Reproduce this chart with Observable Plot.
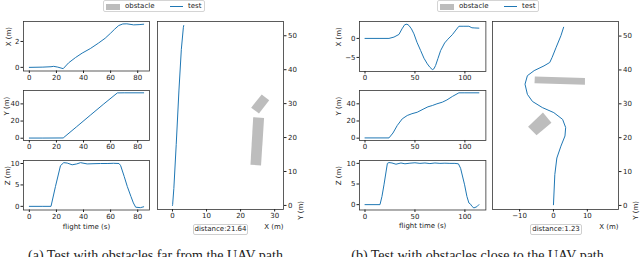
<!DOCTYPE html>
<html><head><meta charset="utf-8">
<script src="https://cdn.jsdelivr.net/npm/d3@7"></script>
<script src="https://cdn.jsdelivr.net/npm/@observablehq/plot@0.6"></script>
<style>
body{margin:0;background:#fff}
#root{position:relative;width:640px;height:257px;overflow:hidden;font-family:"DejaVu Sans",sans-serif;color:#222;background:#fff}
#root svg{position:absolute}
.legend{position:absolute;height:12px;border:1px solid #d4d4d4;border-radius:2px;box-sizing:border-box;font-size:7px;background:#fff}
.legend span{position:absolute}
.dist{position:absolute;height:11px;border:1px solid #cfcfcf;border-radius:2px;box-sizing:border-box;font-size:7px;line-height:9px;text-align:center;background:#fff}
.cap{position:absolute;width:320px;text-align:center;font-family:"Liberation Serif",serif;font-size:14px;line-height:14px;color:#222;white-space:nowrap}
</style></head><body><div id="root"></div>
<script>
// ---------- data: panel (a) ----------
const aXt = [0, 10, 16, 18, 21, 25, 29, 34, 39, 45, 51, 56, 60, 63, 66, 69, 72, 77, 81, 84.4];
const aXv = [0, 0.02, 0.05, 0.08, 0.02, -0.1, 0.35, 0.75, 1.1, 1.45, 1.87, 2.25, 2.64, 2.95, 3.23, 3.35, 3.36, 3.28, 3.3, 3.33];
const aYt = [0, 10, 25, 35, 45, 55, 65, 70, 84.4];
const aYv = [0.2, 0.2, 0.3, 13.5, 26.8, 40, 52.8, 52.9, 52.9];
const aZt = [0, 10, 16, 19.3, 23, 25.4, 28, 31.6, 35, 37.8, 42.7, 47, 52.6, 58, 62, 66.2, 67.4, 70, 72.3, 75, 76.8, 78.5, 82, 84.4];
const aZv = [0, 0, 0, 4.65, 9.5, 10.2, 10.1, 9.7, 9.9, 10.2, 9.9, 9.95, 10.0, 10.0, 10.05, 10.0, 9.5, 7.0, 4.65, 2.3, 0.8, -0.2, -0.3, -0.1];
const aPathX = [0, 0.05, 0.4, 1.1, 1.9, 2.6, 3.2, 3.3];
const aPathY = [0, 0.3, 5, 18, 34, 46, 52.5, 53];
const aObs1X = [23.7, 26.9, 26.0, 22.9];
const aObs1Y = [26.0, 25.8, 11.8, 12.0];
const aObs2X = [26.2, 28.4, 25.4, 23.1];
const aObs2Y = [32.7, 31.0, 27.1, 28.8];
const aDistance = "distance:21.64";
const aCaption = "(a) Test with obstacles far from the UAV path";

// ---------- data: panel (b) ----------
const bXt = [0, 15, 24, 29, 34, 37, 39.7, 42, 44, 46.5, 49, 52, 55.7, 59, 62.4, 65, 67.4, 69, 70.7, 73, 75.7, 79.7, 83, 87.4, 91, 94, 99, 104, 107, 110, 114];
const bXv = [0, 0, 0, 0.35, 1.05, 2.5, 3.6, 3.75, 3.4, 2.5, 1.2, -1.0, -3.2, -5.2, -6.7, -7.6, -8.2, -8.0, -7.1, -5.3, -3.2, -1.2, -0.2, 0.97, 2.2, 3.2, 3.2, 3.2, 2.8, 2.75, 2.7];
const bYt = [0, 24, 28, 32.3, 37.3, 42.3, 47, 52.3, 59, 63, 67.4, 72, 77.4, 82, 87.4, 94, 100, 114];
const bYv = [0.3, 0.3, 6, 14.8, 22.5, 26.4, 28.5, 30.2, 34.2, 36.5, 38, 40, 41.9, 44.5, 48.5, 52.8, 52.8, 52.8];
const bZt = [0, 15, 17, 19, 22.4, 24, 27, 31, 36, 40, 45, 50, 55, 60, 65, 70, 75, 80, 85, 90, 93.5, 95.7, 99.7, 102, 104, 105.7, 107, 109, 112, 114];
const bZv = [0, 0, 2, 4.8, 10.0, 10.2, 10.1, 9.8, 10.1, 9.9, 10.05, 10.15, 10.0, 10.1, 9.95, 10.1, 10.0, 10.05, 10.0, 10.0, 9.9, 8.8, 4.8, 2.0, 0.4, 0.1, -0.4, -0.8, -0.5, 0];
const bPathX = [0, 0.4, 1.0, 2.2, 3.4, 3.6, 2.7, 0.1, -3.3, -6.2, -7.7, -8.4, -7.7, -5.7, -2.8, -1.1, -0.4, 0.8, 2.2, 3.0];
const bPathY = [0.2, 9.1, 14, 17.5, 20.5, 23, 25.4, 27.4, 28.9, 30.7, 32.8, 35.8, 38.3, 39.8, 41.2, 42.2, 43.7, 46.7, 50.1, 52.6];
const bObs1X = [-5.5, 9.3, 9.3, -5.6];
const bObs1Y = [38.1, 37.6, 35.6, 36.1];
const bObs2X = [-3.1, -0.6, -5.0, -7.5];
const bObs2Y = [27.4, 24.4, 20.7, 23.2];
const bDistance = "distance:1.23";
const bCaption = "(b) Test with obstacles close to the UAV path";

// ---------- labels ----------
const legendLabels = ["obstacle", "test"];
const yLabels = ["X (m)", "Y (m)", "Z (m)"];
const timeLabel = "flight time (s)";
const pathXLabel = "X (m)";
const pathYLabel = "Y (m)";
const aTimeTicks = [0, 20, 40, 60, 80];
const bTimeTicks = [0, 50, 100];
const aXTicks = [0, 2], bXTicks = [-5, 0];
const yTicks = [0, 20, 40];
const zTicks = [0, 5, 10];
const aPathXTicks = [0, 10, 20, 30], bPathXTicks = [-10, 0, 10];
const pathYTicks = [0, 10, 20, 30, 40, 50];

const BLUE = "#1f77b4", GRAY = "#bdbdbd", INK = "#333";
const fmt = d3.format("~g");
const root = document.getElementById("root");
const style = {fontFamily: "DejaVu Sans", fontSize: "7px", color: "#222", background: "none", overflow: "visible"};

function series(t, v) { return t.map((d, i) => ({t: d, v: v[i]})); }
function polys(list) {
  const out = [];
  list.forEach(([xs, ys], k) => xs.forEach((x, i) => out.push({k, x, y: ys[i]})));
  return out;
}

function timePlot(o) {
  const ML = 30, MR = 4, MT = 4, MB = o.xlabel ? 26 : 14;
  const marks = [
    Plot.frame({stroke: INK, strokeWidth: 0.8}),
    Plot.axisX({ticks: o.xTicks, tickFormat: fmt, tickSize: 2.5, tickPadding: 1.5, label: null}),
    Plot.axisY({ticks: o.yTicks, tickFormat: fmt, tickSize: 2.5, tickPadding: 1.5, label: null}),
    Plot.line(series(o.t, o.v), {x: "t", y: "v", stroke: BLUE, strokeWidth: 1}),
    Plot.text([o.ylabel], {text: d => d, frameAnchor: "left", dx: o.labelDx, rotate: -90})
  ];
  if (o.xlabel) marks.push(Plot.text([o.xlabel], {text: d => d, frameAnchor: "bottom", dy: 18.5}));
  const svg = Plot.plot({
    width: ML + o.w + MR, height: MT + o.h + MB,
    marginLeft: ML, marginRight: MR, marginTop: MT, marginBottom: MB,
    x: {domain: o.xDomain}, y: {domain: o.yDomain},
    style, marks
  });
  svg.style.left = (o.left - ML) + "px";
  svg.style.top = (o.top - MT) + "px";
  root.appendChild(svg);
}

function pathPlot(o) {
  const ML = 4, MR = 28, MT = 4, MB = 28;
  const svg = Plot.plot({
    width: ML + o.w + MR, height: MT + o.h + MB,
    marginLeft: ML, marginRight: MR, marginTop: MT, marginBottom: MB,
    x: {domain: o.xDomain}, y: {domain: o.yDomain},
    style,
    marks: [
      Plot.frame({stroke: INK, strokeWidth: 0.8}),
      Plot.axisX({ticks: o.xTicks, tickFormat: fmt, tickSize: 2.5, tickPadding: 1.5, label: null}),
      Plot.axisY({anchor: "right", ticks: pathYTicks, tickFormat: fmt, tickSize: 2.5, tickPadding: 2, label: null}),
      Plot.line(polys(o.obs), {x: "x", y: "y", z: "k", fill: GRAY, stroke: "none"}),
      Plot.line(o.px.map((x, i) => ({x, y: o.py[i]})), {x: "x", y: "y", stroke: BLUE, strokeWidth: 1}),
      Plot.text([pathXLabel], {text: d => d, frameAnchor: "bottom-right", dy: 19.5, textAnchor: "end"}),
      Plot.text([pathYLabel], {text: d => d, frameAnchor: "bottom-right", dx: 19, dy: -8.5, rotate: -90})
    ]
  });
  svg.style.left = (o.left - ML) + "px";
  svg.style.top = (o.top - MT) + "px";
  root.appendChild(svg);
}

function legend(left) {
  const d = document.createElement("div");
  d.className = "legend";
  d.style.left = left + "px"; d.style.top = "0px"; d.style.width = "102px";
  d.innerHTML =
    `<span style="left:2px;top:2.5px;width:14px;height:6px;background:${GRAY}"></span>` +
    `<span style="left:21px;top:0.5px;line-height:9px">${legendLabels[0]}</span>` +
    `<span style="left:66px;top:5px;width:13px;height:1.2px;background:${BLUE}"></span>` +
    `<span style="left:84px;top:0.5px;line-height:9px">${legendLabels[1]}</span>`;
  root.appendChild(d);
}
function distBox(left, width, text) {
  const d = document.createElement("div");
  d.className = "dist";
  d.style.left = left + "px"; d.style.top = "223.5px"; d.style.width = width + "px";
  d.textContent = text;
  root.appendChild(d);
}
function caption(center, text) {
  const d = document.createElement("div");
  d.className = "cap";
  d.style.left = (center - 160) + "px"; d.style.top = "249px";
  d.textContent = text;
  root.appendChild(d);
}

// ---------- panel (a) ----------
const aL = 23, aW = 126;
timePlot({t: aXt, v: aXv, left: aL, top: 21, w: aW, h: 49.5, xDomain: [-4.3, 88.7], xTicks: aTimeTicks, yDomain: [-0.28, 3.54], yTicks: aXTicks, ylabel: yLabels[0], labelDx: -15});
timePlot({t: aYt, v: aYv, left: aL, top: 90, w: aW, h: 50, xDomain: [-4.3, 88.7], xTicks: aTimeTicks, yDomain: [-2.65, 55.6], yTicks, ylabel: yLabels[1], labelDx: -17});
timePlot({t: aZt, v: aZv, left: aL, top: 159.5, w: aW, h: 49.5, xDomain: [-4.3, 88.7], xTicks: aTimeTicks, yDomain: [-0.85, 10.7], yTicks: zTicks, ylabel: yLabels[2], labelDx: -16, xlabel: timeLabel});
pathPlot({left: 157, top: 21, w: 126, h: 188, xDomain: [-4.4, 32.6], yDomain: [-1.2, 54.2], xTicks: aPathXTicks,
  px: aPathX, py: aPathY, obs: [[aObs1X, aObs1Y], [aObs2X, aObs2Y]]});
legend(103);
distBox(193, 55, aDistance);
caption(155.5, aCaption);

// ---------- panel (b) ----------
const bL = 359.3, bW = 126.4;
timePlot({t: bXt, v: bXv, left: bL, top: 21, w: bW, h: 50, xDomain: [-5.5, 121], xTicks: bTimeTicks, yDomain: [-8.7, 4.45], yTicks: bXTicks, ylabel: yLabels[0], labelDx: -21});
timePlot({t: bYt, v: bYv, left: bL, top: 90, w: bW, h: 50, xDomain: [-5.5, 121], xTicks: bTimeTicks, yDomain: [-2.7, 55.5], yTicks, ylabel: yLabels[1], labelDx: -20.5});
timePlot({t: bZt, v: bZv, left: bL, top: 160, w: bW, h: 49.5, xDomain: [-5.5, 121], xTicks: bTimeTicks, yDomain: [-1.3, 10.7], yTicks: zTicks, ylabel: yLabels[2], labelDx: -21, xlabel: timeLabel});
pathPlot({left: 491.7, top: 21, w: 126, h: 188, xDomain: [-18, 19.2], yDomain: [-1.2, 54.3], xTicks: bPathXTicks,
  px: bPathX, py: bPathY, obs: [[bObs1X, bObs1Y], [bObs2X, bObs2Y]]});
legend(437);
distBox(530, 52, bDistance);
caption(477.5, bCaption);
</script></body></html>
